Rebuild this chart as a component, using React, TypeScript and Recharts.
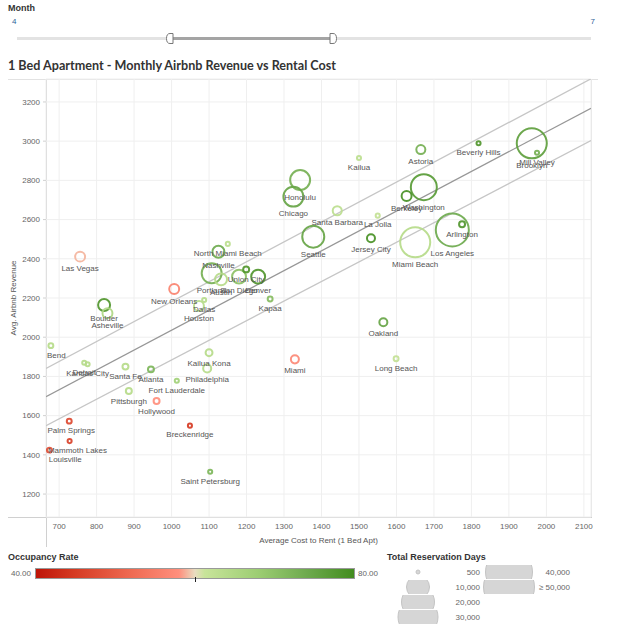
import React from "react";
import { CartesianGrid, ReferenceLine, Scatter, ScatterChart, XAxis, YAxis, ZAxis } from "recharts";

const cities = [
  "Las Vegas", "Honolulu", "Chicago", "Seattle", "North Miami Beach", "Nashville", "Portland", "Austin",
  "Union City", "San Diego", "Denver", "Kapaa", "Dallas", "Houston", "New Orleans", "Boulder",
  "Asheville", "Bend", "Detroit", "Kansas City", "Santa Fe", "Atlanta", "Pittsburgh", "Hollywood",
  "Fort Lauderdale", "Kailua Kona", "Philadelphia", "Miami", "Palm Springs", "Mammoth Lakes", "Louisville", "Breckenridge",
  "Saint Petersburg", "Oakland", "Long Beach", "Kailua", "Astoria", "Beverly Hills", "Brooklyn", "Mill Valley",
  "Washington", "Berkeley", "Santa Barbara", "La Jolla", "Jersey City", "Miami Beach", "Los Angeles", "Arlington",
];
const rentCost = [
  756, 1343, 1325, 1378, 1150, 1125, 1107, 1132,
  1199, 1180, 1231, 1263, 1087, 1073, 1007, 820,
  829, 678, 767, 776, 877, 945, 886, 960,
  1014, 1100, 1095, 1329, 727, 728, 674, 1049,
  1103, 1565, 1599, 1500, 1665, 1819, 1961, 1975,
  1673, 1627, 1442, 1550, 1532, 1650, 1749, 1775,
];
const airbnbRevenue = [
  2411, 2802, 2717, 2513, 2476, 2436, 2326, 2295,
  2346, 2309, 2309, 2195, 2190, 2159, 2246, 2164,
  2122, 1957, 1870, 1862, 1850, 1836, 1726, 1675,
  1778, 1921, 1841, 1887, 1572, 1470, 1424, 1549,
  1314, 2076, 1890, 2914, 2957, 2989, 2989, 2941,
  2765, 2720, 2645, 2620, 2505, 2484, 2547, 2576,
];
const occupancyRate = [
  59, 73, 75, 75, 63, 74, 73, 64,
  78, 70, 78, 71, 64, 64, 56, 78,
  65, 64, 64, 64, 64, 72, 64, 58,
  67, 64, 64, 57, 47, 46, 48, 45,
  72, 75, 62, 63, 73, 78, 76, 73,
  77, 79, 63, 62, 79, 64, 74, 78,
];
const reservationDays = [
  2700, 9100, 9100, 10900, 700, 3700, 9100, 3700,
  1200, 4800, 4800, 900, 700, 2700, 2700, 3700,
  2700, 900, 700, 700, 1200, 1200, 1200, 1200,
  700, 1500, 1900, 1900, 900, 700, 900, 700,
  700, 1900, 900, 700, 2300, 700, 19400, 700,
  14800, 2700, 2300, 700, 1900, 19400, 23200, 1200,
];

const xTicks = [700, 800, 900, 1000, 1100, 1200, 1300, 1400, 1500, 1600, 1700, 1800, 1900, 2000, 2100];
const yTicks = [1200, 1400, 1600, 1800, 2000, 2200, 2400, 2600, 2800, 3000, 3200];

// trend line and its confidence bounds, read at the plot edges
const trendUpper = [{ x: 665, y: 1841 }, { x: 2119, y: 3318 }];
const trendMid = [{ x: 665, y: 1697 }, { x: 2119, y: 3168 }];
const trendLower = [{ x: 665, y: 1549 }, { x: 2119, y: 3003 }];

const sizeLegend = ["500", "10,000", "20,000", "30,000", "40,000", "≥ 50,000"];

const colorStops: [number, string][] = [
  [0, "#bd1408"], [0.12, "#d53a22"], [0.3, "#ef6a52"], [0.45, "#ff8f7d"], [0.5, "#e8dcc0"],
  [0.53, "#c8e49a"], [0.7, "#9ccd72"], [0.85, "#6eaa4e"], [1, "#428c1e"],
];

function hexToRgb(h: string) {
  return [1, 3, 5].map((i) => parseInt(h.slice(i, i + 2), 16));
}

function occColor(v: number) {
  const t = Math.min(1, Math.max(0, (v - 40) / 40));
  for (let i = 1; i < colorStops.length; i++) {
    const [t1, c1] = colorStops[i];
    const [t0, c0] = colorStops[i - 1];
    if (t <= t1) {
      const f = (t - t0) / (t1 - t0);
      const a = hexToRgb(c0);
      const b = hexToRgb(c1);
      const m = a.map((x, k) => Math.round(x + (b[k] - x) * f));
      return `rgb(${m.join(",")})`;
    }
  }
  return colorStops[colorStops.length - 1][1];
}

const data = cities
  .map((city, i) => ({
    city,
    rent: rentCost[i],
    revenue: airbnbRevenue[i],
    occupancy: occupancyRate[i],
    days: reservationDays[i],
  }))
  .sort((a, b) => b.days - a.days);

const FONT = '"Liberation Sans", Arial, sans-serif';
const PLOT_LEFT = 47;
const PLOT_RIGHT = 590;

// rough width of an 8px Arial-like label
function labelWidth(s: string) {
  let w = 0;
  for (const ch of s) {
    if ("iljtfrI ".includes(ch)) w += 2.2;
    else if ("mwMW".includes(ch)) w += 6.7;
    else if (ch >= "A" && ch <= "Z") w += 5.3;
    else w += 4.45;
  }
  return w;
}

const Ring = (props: any) => {
  const { cx, cy, width, payload } = props;
  const r = Math.max(width / 2 - 1, 1.6);
  return (
    <circle cx={cx} cy={cy} r={r} fill="none" stroke={occColor(payload.occupancy)} strokeWidth={2} strokeOpacity={0.92} />
  );
};

// labels sit under the mark, pushed back inside the plot like Tableau does
const CityLabel = (props: any) => {
  const { cx, cy, width, payload } = props;
  const half = labelWidth(payload.city) / 2;
  const x = Math.min(Math.max(cx, PLOT_LEFT + half), PLOT_RIGHT - half);
  return (
    <text x={x} y={cy + width / 2 + 6} dy="0.35em" textAnchor="middle" fontSize={8} fill="#555" fontFamily={FONT}>
      {payload.city}
    </text>
  );
};

function Decorations() {
  const legendRows = [
    { cx: 418, cy: 572, d: 4, lx: 480 },
    { cx: 418, cy: 587, d: 23, lx: 480 },
    { cx: 418, cy: 602, d: 33, lx: 480 },
    { cx: 418, cy: 617, d: 40, lx: 480 },
    { cx: 509, cy: 572, d: 47, lx: 570 },
    { cx: 509, cy: 587, d: 51, lx: 570 },
  ];
  return (
    <svg width={618} height={631} style={{ position: "absolute", left: 0, top: 0 }} fontFamily={FONT}>
      <defs>
        <linearGradient id="occ" x1="0" x2="1" y1="0" y2="0">
          {colorStops.map(([t, c]) => (
            <stop key={t} offset={t} stopColor={c} />
          ))}
        </linearGradient>
        {legendRows.map((row, i) => (
          <clipPath id={`cell${i}`} key={i}>
            <rect x={row.cx - 30} y={row.cy - 7} width={60} height={14} />
          </clipPath>
        ))}
      </defs>
      {/* month filter */}
      <text x={8} y={8} dy="0.35em" fontSize={9} fontWeight="bold" fill="#333">Month</text>
      <text x={12} y={21} dy="0.35em" fontSize={8} fill="#2f5f9a">4</text>
      <text x={595} y={21} dy="0.35em" fontSize={8} fill="#2f5f9a" textAnchor="end">7</text>
      <rect x={17} y={37} width={574} height={3} fill="#e3e3e3" />
      <rect x={170} y={37} width={163} height={3} fill="#a4a4a4" />
      <path d="M173,33.5 L170,33.5 Q166.5,33.5 166.5,38.5 Q166.5,43.5 170,43.5 L173,43.5 Z" fill="#fff" stroke="#777" strokeWidth={1} />
      <path d="M330,33.5 L333,33.5 Q336.5,33.5 336.5,38.5 Q336.5,43.5 333,43.5 L330,43.5 Z" fill="#fff" stroke="#777" strokeWidth={1} />

      {/* chart frame */}
      <line x1={8} y1={79.5} x2={598} y2={79.5} stroke="#e2e2e2" />
      <line x1={591.5} y1={79} x2={591.5} y2={517} stroke="#e2e2e2" />
      <line x1={8} y1={517.5} x2={592} y2={517.5} stroke="#d0d0d0" />
      <line x1={46.5} y1={79} x2={46.5} y2={547} stroke="#d0d0d0" />
      <text x={318.5} y={540} dy="0.35em" fontSize={8} fill="#555" textAnchor="middle">Average Cost to Rent (1 Bed Apt)</text>
      <text x={13} y={298} dy="0.35em" fontSize={8} fill="#555" textAnchor="middle" transform="rotate(-90 13 298)">
        Avg. Airbnb Revenue
      </text>

      {/* colour legend */}
      <text x={8} y={557} dy="0.35em" fontSize={9} fontWeight="bold" fill="#333">Occupancy Rate</text>
      <text x={31} y={573} dy="0.35em" fontSize={8} fill="#666" textAnchor="end">40.00</text>
      <rect x={35.5} y={568.5} width={319} height={10} fill="url(#occ)" stroke="#999" />
      <line x1={195.5} y1={577} x2={195.5} y2={582} stroke="#222" />
      <text x={358} y={573} dy="0.35em" fontSize={8} fill="#666">80.00</text>

      {/* size legend */}
      <text x={387} y={557} dy="0.35em" fontSize={9} fontWeight="bold" fill="#333">Total Reservation Days</text>
      {legendRows.map((row, i) => (
        <g key={i}>
          <circle cx={row.cx} cy={row.cy} r={row.d / 2} fill="#d6d6d6" stroke="#c4c4c4" clipPath={`url(#cell${i})`} />
          <text x={row.lx} y={row.cy} dy="0.35em" fontSize={8} fill="#666" textAnchor="end">{sizeLegend[i]}</text>
        </g>
      ))}
    </svg>
  );
}

export default function App() {
  return (
    <div style={{ position: "absolute", left: 0, top: 0, width: 618, height: 631, background: "#fff", fontFamily: FONT }}>
      <Decorations />
      <div
        style={{
          position: "absolute", left: 8, top: 58, fontFamily: "Lato, sans-serif", fontWeight: 700,
          fontSize: 12.6, color: "#333", whiteSpace: "nowrap", lineHeight: "16px",
        }}
      >
        1 Bed Apartment - Monthly Airbnb Revenue vs Rental Cost
      </div>
      <div style={{ position: "absolute", left: 0, top: 0 }}>
        <ScatterChart width={618} height={560} margin={{ top: 79, right: 27, bottom: 13, left: 0 }}>
          <CartesianGrid stroke="#efefef" />
          <XAxis
            type="number"
            dataKey="rent"
            domain={[665, 2119]}
            ticks={xTicks}
            allowDataOverflow
            height={30}
            axisLine={false}
            tickLine={false}
            tickSize={3}
            tickMargin={3}
            tick={{ fontSize: 8, fill: "#666", fontFamily: FONT }}
          />
          <YAxis
            type="number"
            dataKey="revenue"
            domain={[1083, 3317]}
            ticks={yTicks}
            allowDataOverflow
            width={46}
            axisLine={false}
            tickLine={{ stroke: "#d0d0d0" }}
            tickSize={3}
            tickMargin={3}
            tick={{ fontSize: 8, fill: "#666", fontFamily: FONT }}
          />
          <ZAxis type="number" dataKey="days" domain={[0, 50000]} range={[0, 2077]} />
          <ReferenceLine segment={trendUpper} stroke="#c6c6c6" strokeWidth={1.3} ifOverflow="hidden" />
          <ReferenceLine segment={trendLower} stroke="#c6c6c6" strokeWidth={1.3} ifOverflow="hidden" />
          <ReferenceLine segment={trendMid} stroke="#979797" strokeWidth={1.3} ifOverflow="hidden" />
          <Scatter data={data} shape={Ring} isAnimationActive={false} />
          <Scatter data={data} shape={CityLabel} isAnimationActive={false} />
        </ScatterChart>
      </div>
    </div>
  );
}
